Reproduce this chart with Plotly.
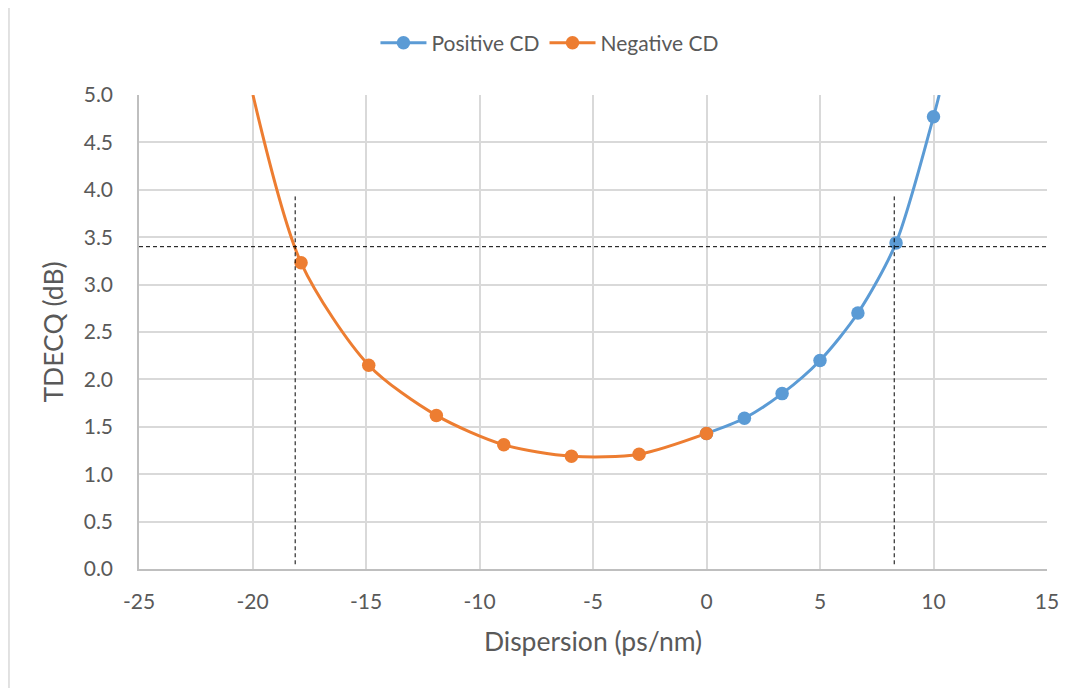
import plotly.graph_objects as go

# ---- data ----
pos_cd = [0.0, 1.67, 3.33, 5.0, 6.67, 8.35, 10.0]
pos_tdecq = [1.43, 1.59, 1.85, 2.20, 2.70, 3.44, 4.77]
pos_curve_end_x = [10.25]
pos_curve_end_y = [5.0]

neg_cd = [0.0, -2.97, -5.95, -8.93, -11.9, -14.88, -17.86]
neg_tdecq = [1.43, 1.21, 1.19, 1.31, 1.62, 2.15, 3.23]
neg_curve_end_x = [-19.98]
neg_curve_end_y = [5.0]

threshold_tdecq = [3.4]
cd_limits = [-18.12, 8.27]
guide_y_range = [0.05, 3.93]

x_ticks = [-25, -20, -15, -10, -5, 0, 5, 10, 15]
y_ticks = [0.0, 0.5, 1.0, 1.5, 2.0, 2.5, 3.0, 3.5, 4.0, 4.5, 5.0]

BLUE = "#5B9BD5"
ORANGE = "#ED7D31"
GREY_TXT = "#595959"
FONT = "Lato"

fig = go.Figure()

# smooth curves (including extension beyond last marker)
fig.add_trace(go.Scatter(
    x=pos_cd + pos_curve_end_x, y=pos_tdecq + pos_curve_end_y,
    mode="lines", line=dict(color=BLUE, width=3, shape="spline", smoothing=0.8),
    showlegend=False, hoverinfo="skip"))
fig.add_trace(go.Scatter(
    x=neg_cd + neg_curve_end_x, y=neg_tdecq + neg_curve_end_y,
    mode="lines", line=dict(color=ORANGE, width=3, shape="spline", smoothing=0.8),
    showlegend=False, hoverinfo="skip"))

# markers
fig.add_trace(go.Scatter(
    x=pos_cd, y=pos_tdecq, mode="markers",
    marker=dict(color=BLUE, size=13.5), showlegend=False, name="Positive CD"))
fig.add_trace(go.Scatter(
    x=neg_cd, y=neg_tdecq, mode="markers",
    marker=dict(color=ORANGE, size=13.5), showlegend=False, name="Negative CD"))

# legend entries
fig.add_trace(go.Scatter(
    x=[None], y=[None], mode="lines+markers", name="Positive CD",
    line=dict(color=BLUE, width=3), marker=dict(color=BLUE, size=13.5)))
fig.add_trace(go.Scatter(
    x=[None], y=[None], mode="lines+markers", name="Negative CD",
    line=dict(color=ORANGE, width=3), marker=dict(color=ORANGE, size=13.5)))

# dashed guide lines
dash_line = dict(color="black", width=1, dash="4px,3px")
fig.add_trace(go.Scatter(
    x=[x_ticks[0], x_ticks[-1]], y=threshold_tdecq * 2, mode="lines",
    line=dash_line, showlegend=False, hoverinfo="skip"))
for cx in cd_limits:
    fig.add_trace(go.Scatter(
        x=[cx, cx], y=guide_y_range, mode="lines",
        line=dash_line, showlegend=False, hoverinfo="skip"))

# outer chart border
fig.add_shape(type="rect", xref="paper", yref="paper",
              x0=-0.1432, x1=1.2, y0=-0.5, y1=1.186,
              line=dict(color="#D9D9D9", width=1.5), layer="below")

fig.update_layout(
    width=1073, height=688,
    margin=dict(l=131, r=34, t=87, b=127),
    paper_bgcolor="white", plot_bgcolor="white",
    font=dict(family=FONT, color=GREY_TXT, size=21),
    legend=dict(orientation="h", xref="paper", x=0.4526, xanchor="center",
                yref="container", y=0.949, yanchor="middle", itemwidth=46,
                font=dict(size=21, color=GREY_TXT)),
    xaxis=dict(range=[-25, 15], tickvals=x_ticks, ticktext=[str(v) for v in x_ticks],
               showgrid=True, gridcolor="#D9D9D9", gridwidth=1.5,
               showline=True, linecolor="#BFBFBF", linewidth=1.5,
               zeroline=False, ticks="", ticklabelstandoff=13,
               tickfont=dict(size=21, color=GREY_TXT),
               title=dict(text="Dispersion (ps/nm)", font=dict(size=26.5, color=GREY_TXT),
                          standoff=20)),
    yaxis=dict(range=[0, 5.0], tickvals=y_ticks, ticktext=[f"{v:.1f}" for v in y_ticks],
               showgrid=True, gridcolor="#D9D9D9", gridwidth=1.5,
               showline=True, linecolor="#BFBFBF", linewidth=1.5,
               zeroline=False, ticks="", ticklabelstandoff=20,
               tickfont=dict(size=21, color=GREY_TXT),
               title=dict(text="TDECQ (dB)", font=dict(size=26.5, color=GREY_TXT),
                          standoff=12)),
)

fig.write_html("out.html")
